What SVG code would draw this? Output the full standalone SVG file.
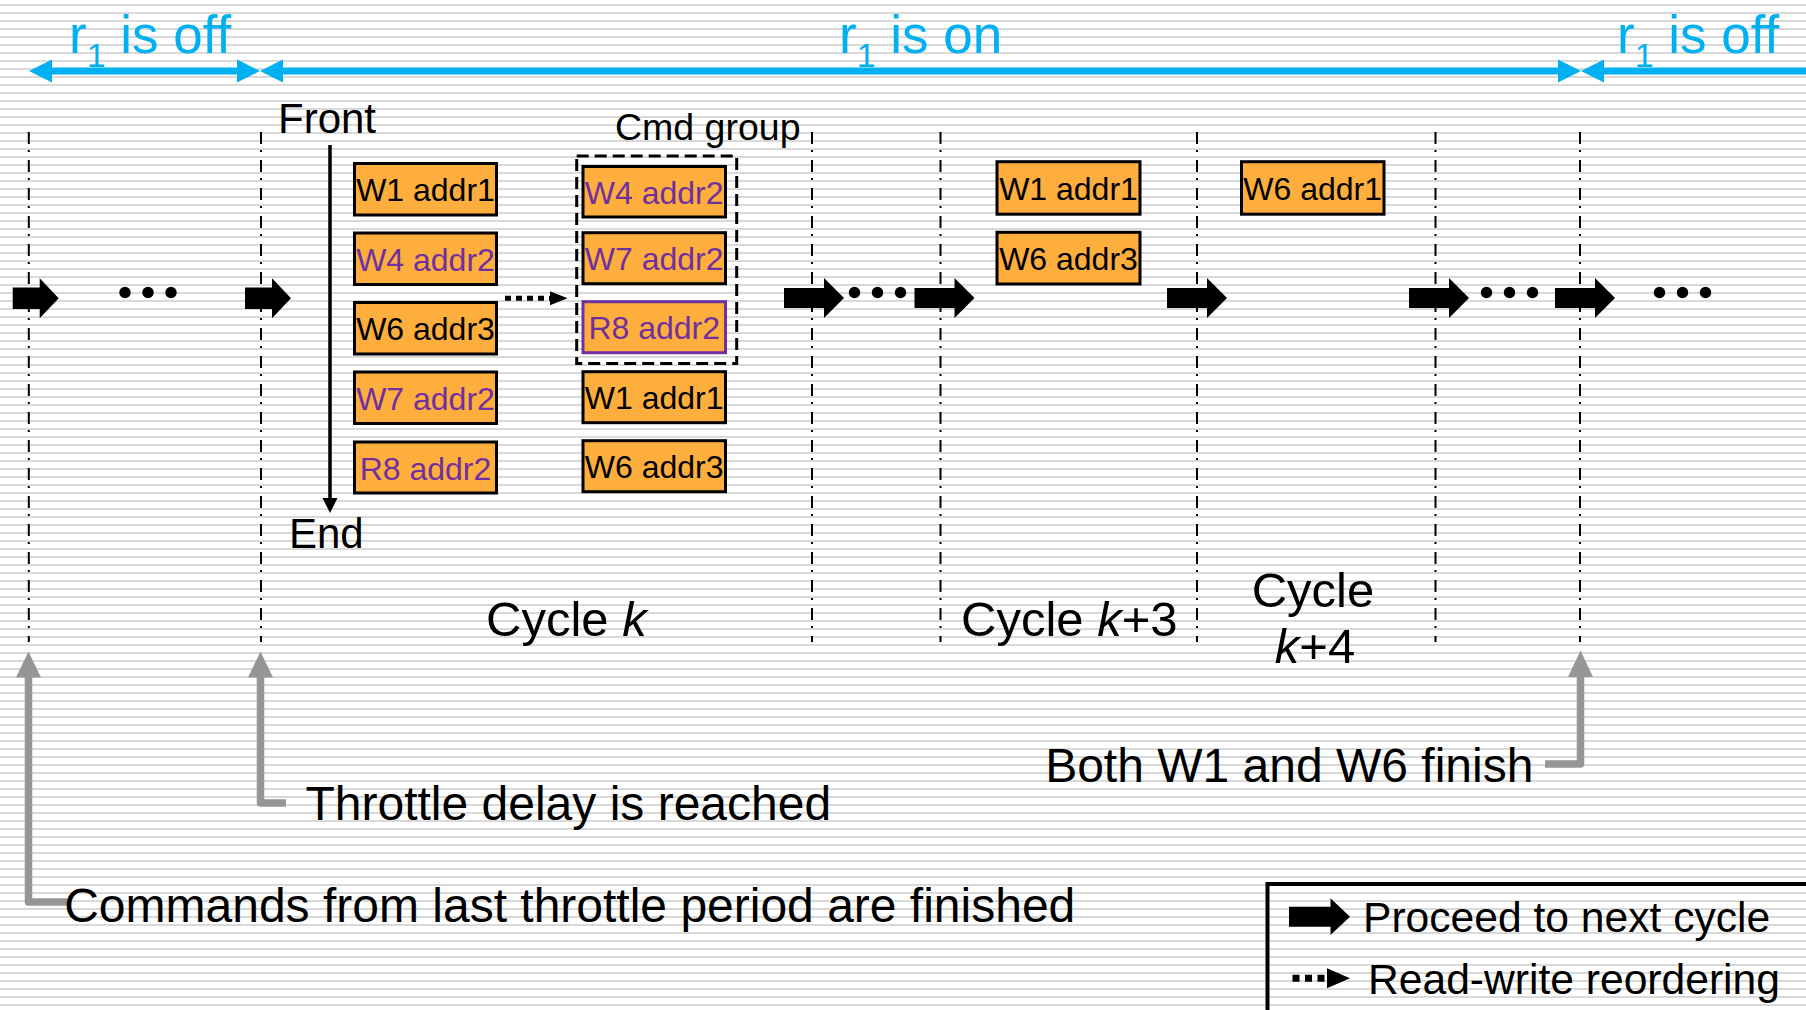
<svg xmlns="http://www.w3.org/2000/svg" width="1806" height="1010" viewBox="0 0 1806 1010">
  <defs>
    <pattern id="stripes" width="8" height="8" patternUnits="userSpaceOnUse">
      <rect x="0" y="4" width="8" height="2" fill="#d9d9d9"/>
    </pattern>
    <!-- block arrows: "proceed to next cycle" -->
    <path id="stepS" d="M0,-10.8 H27 V-20 L46,0 L27,20 V10.8 H0 Z"/>
    <path id="stepL" d="M0,-10 H40 V-20 L60,0 L40,20 V10 H0 Z"/>
    <style>
      text { font-family: "Liberation Sans", Arial, sans-serif; white-space: pre; }
      .blue { fill: #00B0F0; font-size: 53px; }
      .sub { font-size: 34px; }
      .lbl { fill: #000; font-size: 48px; }
      .cmd { fill: #FDAE3C; stroke: #000; stroke-width: 3; }
      .cmd.rd { stroke: #7030A0; }
      .ct { font-size: 32px; text-anchor: middle; fill: #000; }
      .ct.p { fill: #7030A0; }
      .cyc { fill: none; stroke: #000; stroke-width: 2; stroke-dasharray: 12 6 2 8; }
      .bl { stroke: #00B0F0; stroke-width: 7; fill: none; }
      .bh { fill: #00B0F0; }
      .gr { stroke: #969696; stroke-width: 7.5; fill: none; stroke-linejoin: round; }
      .gh { fill: #969696; }
      .dot { fill: #000; }
    </style>
  </defs>

  <!-- striped background -->
  <rect width="1806" height="1010" fill="#ffffff"/>
  <rect width="1806" height="1010" fill="url(#stripes)"/>

  <!-- r1 state ranges -->
  <g id="r1-ranges">
    <line class="bl" x1="50" y1="71" x2="239" y2="71"/>
    <polygon class="bh" points="29,71 52,59.5 52,82.5"/>
    <polygon class="bh" points="260,71 237,59.5 237,82.5"/>
    <line class="bl" x1="281" y1="71" x2="1560" y2="71"/>
    <polygon class="bh" points="260,71 283,59.5 283,82.5"/>
    <polygon class="bh" points="1581,71 1558,59.5 1558,82.5"/>
    <line class="bl" x1="1602" y1="71" x2="1806" y2="71"/>
    <polygon class="bh" points="1581,71 1604,59.5 1604,82.5"/>
    <text class="blue" x="69" y="53">r<tspan class="sub" dy="14">1</tspan><tspan dy="-14"> is off</tspan></text>
    <text class="blue" x="839" y="53">r<tspan class="sub" dy="14">1</tspan><tspan dy="-14"> is on</tspan></text>
    <text class="blue" x="1617" y="53">r<tspan class="sub" dy="14">1</tspan><tspan dy="-14"> is off</tspan></text>
  </g>

  <!-- cycle boundaries -->
  <g id="cycle-boundaries">
    <line class="cyc" x1="28.8" y1="132" x2="28.8" y2="642"/>
    <line class="cyc" x1="261" y1="132" x2="261" y2="642"/>
    <line class="cyc" x1="812" y1="132" x2="812" y2="642"/>
    <line class="cyc" x1="940.5" y1="132" x2="940.5" y2="642"/>
    <line class="cyc" x1="1197" y1="132" x2="1197" y2="642"/>
    <line class="cyc" x1="1435.5" y1="132" x2="1435.5" y2="642"/>
    <line class="cyc" x1="1580" y1="132" x2="1580" y2="642"/>
  </g>

  <!-- queue order -->
  <g id="queue-order">
    <line x1="330" y1="145" x2="330" y2="500" stroke="#000" stroke-width="3.5"/>
    <polygon points="322.5,498 337.5,498 330,513" fill="#000"/>
    <text class="lbl" x="278" y="133" style="font-size:42px">Front</text>
    <text class="lbl" x="289" y="548" style="font-size:42px">End</text>
  </g>

  <!-- cycle k: queue before reordering -->
  <g id="queue-k-1"><rect class="cmd" x="354.5" y="163.5" width="142" height="51.5"/><text class="ct" x="425.5" y="201">W1 addr1</text></g>
  <g id="queue-k-2"><rect class="cmd" x="354.5" y="233" width="142" height="51.5"/><text class="ct p" x="425.5" y="270.5">W4 addr2</text></g>
  <g id="queue-k-3"><rect class="cmd" x="354.5" y="302.5" width="142" height="51.5"/><text class="ct" x="425.5" y="340">W6 addr3</text></g>
  <g id="queue-k-4"><rect class="cmd" x="354.5" y="372" width="142" height="51.5"/><text class="ct p" x="425.5" y="409.5">W7 addr2</text></g>
  <g id="queue-k-5"><rect class="cmd" x="354.5" y="442" width="142" height="51"/><text class="ct p" x="425.5" y="479.5">R8 addr2</text></g>

  <!-- cycle k: queue after reordering -->
  <g id="cmd-group">
    <rect x="576.7" y="156" width="160" height="207.5" fill="none" stroke="#000" stroke-width="3" stroke-dasharray="12 6"/>
    <text class="lbl" x="615" y="140" style="font-size:37.5px">Cmd group</text>
  </g>
  <g id="reorder-1"><rect class="cmd" x="583" y="166.5" width="142.5" height="50.5"/><text class="ct p" x="654.2" y="203.5">W4 addr2</text></g>
  <g id="reorder-2"><rect class="cmd" x="583" y="232.7" width="142.5" height="51"/><text class="ct p" x="654.2" y="270">W7 addr2</text></g>
  <g id="reorder-3"><rect class="cmd rd" x="583" y="301.7" width="142.5" height="51"/><text class="ct p" x="654.2" y="339">R8 addr2</text></g>
  <g id="reorder-4"><rect class="cmd" x="583" y="371.7" width="142.5" height="51"/><text class="ct" x="654.2" y="409">W1 addr1</text></g>
  <g id="reorder-5"><rect class="cmd" x="583" y="440.7" width="142.5" height="51"/><text class="ct" x="654.2" y="478">W6 addr3</text></g>

  <!-- cycle k+3 -->
  <g id="k3-1"><rect class="cmd" x="997" y="161.7" width="143" height="52.5"/><text class="ct" x="1068.5" y="199.5">W1 addr1</text></g>
  <g id="k3-2"><rect class="cmd" x="997" y="232.3" width="143" height="51.7"/><text class="ct" x="1068.5" y="270">W6 addr3</text></g>

  <!-- cycle k+4 -->
  <g id="k4-1"><rect class="cmd" x="1241.5" y="161.7" width="142.5" height="52.5"/><text class="ct" x="1312.7" y="199.5">W6 addr1</text></g>

  <!-- cycle labels -->
  <g id="cycle-labels">
    <text class="lbl" x="486" y="636" style="font-size:49px">Cycle <tspan font-style="italic">k</tspan></text>
    <text class="lbl" x="961" y="636" style="font-size:49px">Cycle <tspan font-style="italic">k</tspan>+3</text>
    <text class="lbl" x="1313" y="607" text-anchor="middle" style="font-size:49px">Cycle</text>
    <text class="lbl" x="1315" y="663" text-anchor="middle" style="font-size:49px"><tspan font-style="italic">k</tspan>+4</text>
  </g>

  <!-- connectors -->
  <g id="connectors">
    <use href="#stepS" x="12.7" y="298.3"/>
    <use href="#stepS" x="245" y="298.3"/>
    <use href="#stepL" x="784" y="298"/>
    <use href="#stepL" x="914.5" y="298"/>
    <use href="#stepL" x="1167" y="298"/>
    <use href="#stepL" x="1409" y="298"/>
    <use href="#stepL" x="1555" y="298"/>

    <circle class="dot" cx="125" cy="292.5" r="5.7"/>
    <circle class="dot" cx="148" cy="292.5" r="5.7"/>
    <circle class="dot" cx="171" cy="292.5" r="5.7"/>
    <circle class="dot" cx="854.5" cy="292.5" r="5.7"/>
    <circle class="dot" cx="877.5" cy="292.5" r="5.7"/>
    <circle class="dot" cx="900.5" cy="292.5" r="5.7"/>
    <circle class="dot" cx="1486.5" cy="292.5" r="5.7"/>
    <circle class="dot" cx="1509.5" cy="292.5" r="5.7"/>
    <circle class="dot" cx="1532.5" cy="292.5" r="5.7"/>
    <circle class="dot" cx="1659.5" cy="292.5" r="5.7"/>
    <circle class="dot" cx="1682.5" cy="292.5" r="5.7"/>
    <circle class="dot" cx="1705.5" cy="292.5" r="5.7"/>

    <!-- read-write reordering -->
    <line x1="505" y1="298.3" x2="550" y2="298.3" stroke="#000" stroke-width="5" stroke-dasharray="6 5"/>
    <polygon points="550,291.3 567.5,298.3 550,305.3" fill="#000"/>

    <!-- event callouts -->
    <path class="gr" d="M67,902 H28.5 V674"/>
    <polygon class="gh" points="16,677.5 41,677.5 28.5,651.5"/>
    <path class="gr" d="M286,803 H260.5 V674"/>
    <polygon class="gh" points="248,677.5 273,677.5 260.5,651.5"/>
    <path class="gr" d="M1545,764 H1580.5 V674"/>
    <polygon class="gh" points="1568,677 1593,677 1580.5,650.5"/>
  </g>

  <!-- event labels -->
  <g id="event-labels">
    <text class="lbl" x="305.5" y="819.5">Throttle delay is reached</text>
    <text class="lbl" x="64.2" y="921.7">Commands from last throttle period are finished</text>
    <text class="lbl" x="1533.4" y="782" text-anchor="end">Both W1 and W6 finish</text>
  </g>

  <!-- legend -->
  <g id="legend">
    <rect x="1267.5" y="884" width="600" height="200" fill="none" stroke="#000" stroke-width="4"/>
    <path d="M1289,906.7 H1330.5 V898.3 L1350,916.7 L1330.5,935 V926.7 H1289 Z" fill="#000"/>
    <text class="lbl" x="1363" y="931.7" style="font-size:42.6px">Proceed to next cycle</text>
    <line x1="1292.5" y1="978.3" x2="1325" y2="978.3" stroke="#000" stroke-width="7" stroke-dasharray="7 5.5"/>
    <polygon points="1327,968.3 1350,978.3 1327,988.3" fill="#000"/>
    <text class="lbl" x="1368" y="993.5" style="font-size:42.6px">Read-write reordering</text>
  </g>
</svg>
